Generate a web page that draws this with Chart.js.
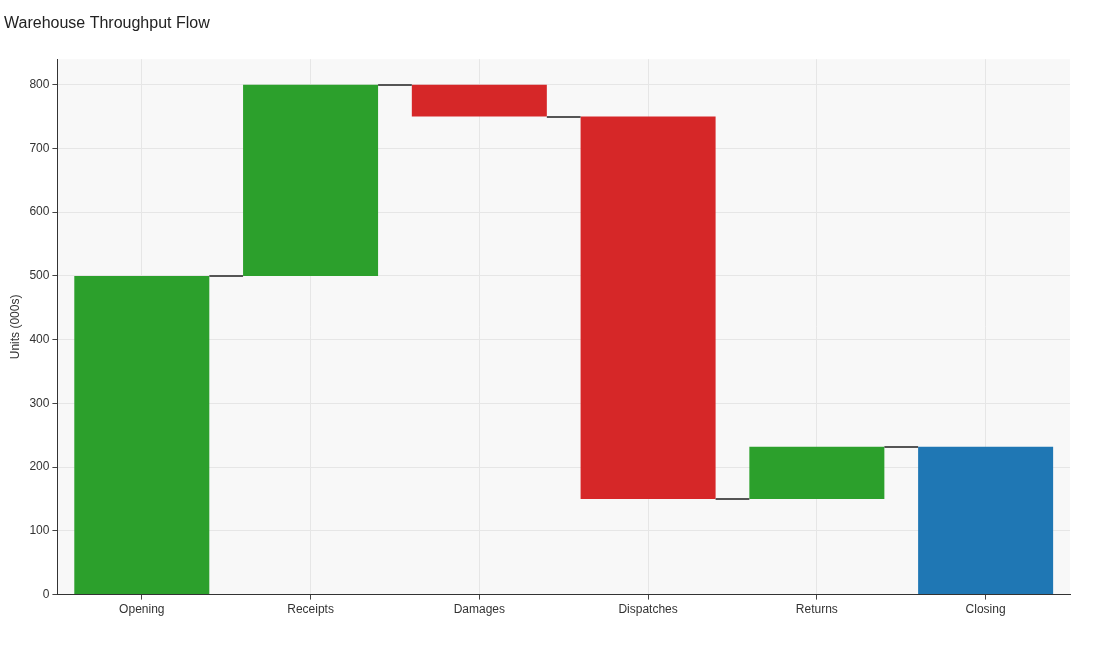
<!DOCTYPE html>
<html><head><meta charset="utf-8">
<script src="https://cdn.jsdelivr.net/npm/chart.js@4"></script>
<style>body{margin:0;background:#fff}#w{width:1100px;height:650px}</style>
</head><body><div id="w"><canvas id="c"></canvas></div>
<script>
const categories = ["Opening","Receipts","Damages","Dispatches","Returns","Closing"];
const deltas = [500, 300, -50, -600, 82, null];
const kinds = ["up","up","down","down","up","total"];
const colors = {up:"#2ca02c", down:"#d62728", total:"#1f77b4"};

const ranges = []; let run = 0;
deltas.forEach((d,i)=>{
  if (kinds[i]==="total") ranges.push([0, run]);
  else { ranges.push([run, run+d]); run += d; }
});

const bgPlugin = {id:"bg", beforeDraw(ch){const a=ch.chartArea,c=ch.ctx;c.save();c.fillStyle="#f8f8f8";c.fillRect(a.left,a.top,a.right-a.left,a.bottom-a.top);c.restore();}};
const connPlugin = {id:"conn", afterDatasetsDraw(ch){
  const m=ch.getDatasetMeta(0), y=ch.scales.y, c=ch.ctx;
  c.save(); c.strokeStyle="#555"; c.lineWidth=2;
  for(let i=0;i<ranges.length-1;i++){
    const end = kinds[i]==="total"?ranges[i][1]:ranges[i][1];
    const b1=m.data[i], b2=m.data[i+1];
    const py=Math.round(y.getPixelForValue(end));
    c.beginPath(); c.moveTo(b1.x+b1.width/2,py); c.lineTo(b2.x-b2.width/2,py); c.stroke();
  }
  c.restore();
}};

new Chart(document.getElementById("c"),{
  type:"bar",
  data:{labels:categories,datasets:[{data:ranges,backgroundColor:kinds.map(k=>colors[k]),barPercentage:0.8,categoryPercentage:1,borderWidth:0}]},
  options:{
    responsive:true,maintainAspectRatio:false,animation:false,
    layout:{padding:{left:4,right:30,top:0,bottom:30}},
    plugins:{legend:{display:false},tooltip:{enabled:false},
      title:{display:true,text:"Warehouse Throughput Flow",align:"start",color:"#222",font:{family:"Liberation Sans, Arial",size:16,weight:"normal"},padding:{top:14,bottom:26}}},
    scales:{
      x:{grid:{color:"#e6e6e6",offset:false,tickLength:5,drawTicks:true,tickColor:"#444"},border:{color:"#333"},
        ticks:{color:"#333",font:{family:"Liberation Sans, Arial",size:12}}},
      y:{min:0,max:840,grid:{color:"#e6e6e6",tickLength:5,tickColor:"#444"},border:{color:"#333"},
        ticks:{stepSize:100,color:"#333",font:{family:"Liberation Sans, Arial",size:12},callback:v=>v%100===0&&v<=800?v:null},
        title:{display:true,text:"Units (000s)",color:"#333",font:{family:"Liberation Sans, Arial",size:12}}}
    }
  },
  plugins:[bgPlugin,connPlugin]
});
</script></body></html>
